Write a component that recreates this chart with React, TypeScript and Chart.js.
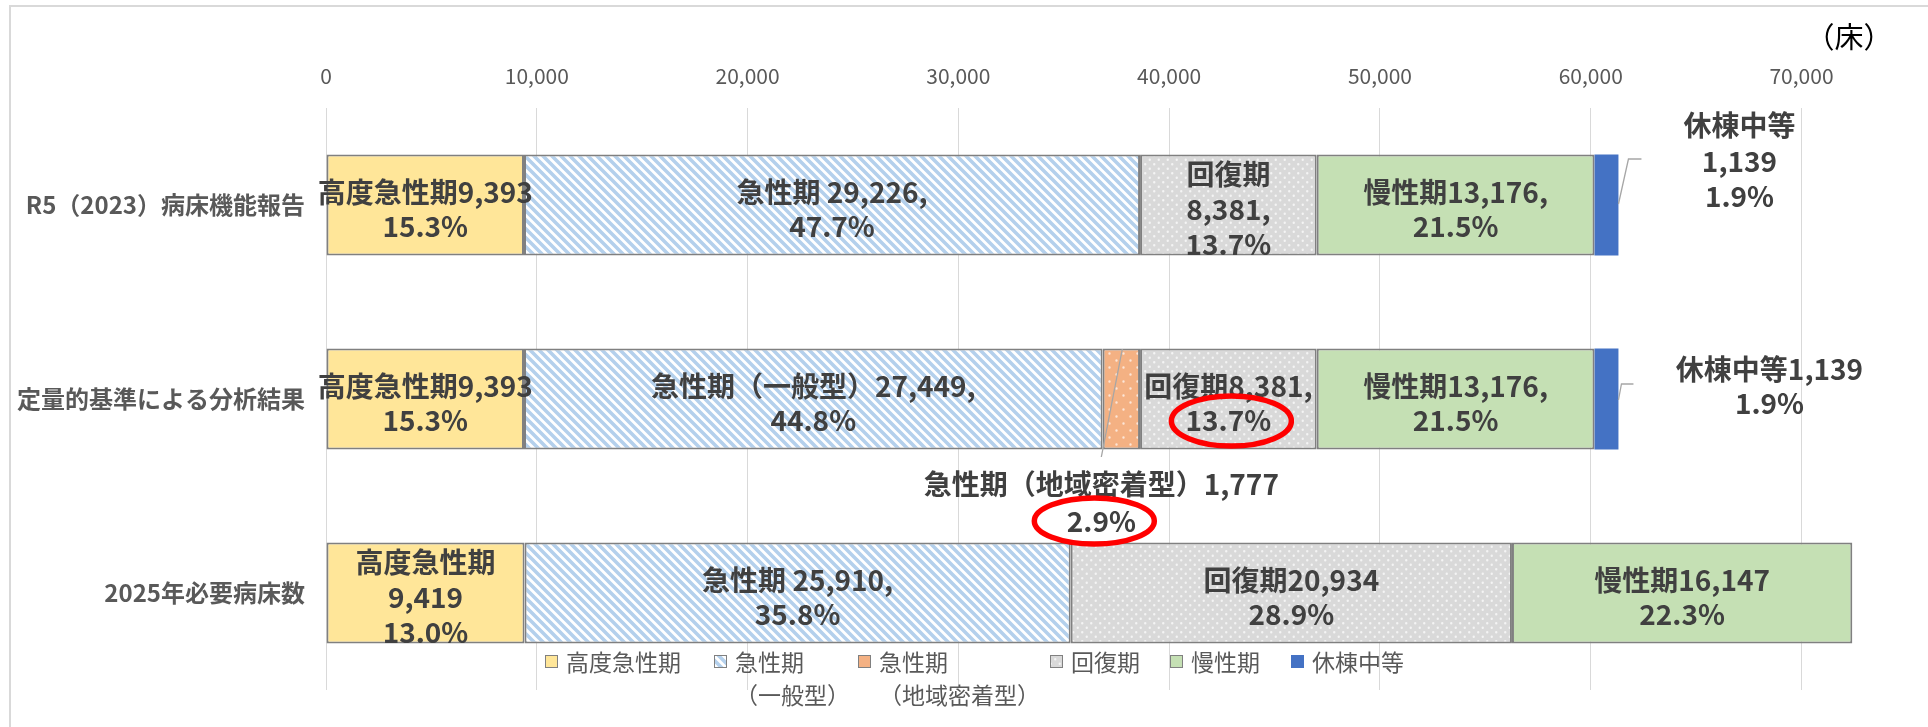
import React, { useEffect, useRef } from "react";
import { Chart, registerables } from "chart.js";

Chart.register(...registerables);

// ---------------- data ----------------
const categories = ["R5（2023）病床機能報告", "定量的基準による分析結果", "2025年必要病床数"];
const seriesNames = ["高度急性期", "急性期（一般型）", "急性期（地域密着型）", "回復期", "慢性期", "休棟中等"];
const legendLines = [["高度急性期"], ["急性期", "（一般型）"], ["急性期", "（地域密着型）"], ["回復期"], ["慢性期"], ["休棟中等"]];
const highAcute = [9393, 9393, 9419];
const acuteGeneral = [29226, 27449, 25910];
const acuteCommunity = [0, 1777, 0];
const recovery = [8381, 8381, 20934];
const chronic = [13176, 13176, 16147];
const inactive = [1139, 1139, 0];
const xTickValues = [0, 10000, 20000, 30000, 40000, 50000, 60000, 70000];
const unitLabel = "（床）";

// label text templates per series / per category ({v}=value, {p}=percent)
const labelTemplates: (string[] | null)[][] = [
  [["高度急性期{v}", "{p}"], ["高度急性期{v}", "{p}"], ["高度急性期", "{v}", "{p}"]],
  [["急性期 {v},", "{p}"], ["急性期（一般型）{v},", "{p}"], ["急性期 {v},", "{p}"]],
  [null, ["急性期（地域密着型）{v}", "{p}"], null],
  [["回復期", "{v},", "{p}"], ["回復期{v},", "{p}"], ["回復期{v}", "{p}"]],
  [["慢性期{v},", "{p}"], ["慢性期{v},", "{p}"], ["慢性期{v}", "{p}"]],
  [["休棟中等", "{v}", "{p}"], ["休棟中等{v}", "{p}"], null],
];

// ---------------- layout / style ----------------
const FONT = "'Noto Sans CJK JP', 'Noto Sans', sans-serif";
const W = 1928;
const H = 727;
const AXIS_MAX = 76000;
const PLOT_LEFT = 326;
const PLOT_TOP = 108;
const PLOT_BOTTOM = 690;

const outsideLabels: Record<string, any> = {
  "5-0": { anchor: "end", dx: 121, dy: -44, gap: 35.5, leader: [[0, -1], [10, -46], [23, -46]] },
  "5-1": { anchor: "end", dx: 151, dy: -13, gap: 34, leader: [[0, 1], [3, -15], [15, -15]] },
  "2-1": { anchor: "center", dx: -20, dy: 103.5, gap: 37, leader: [[1, -50], [-20, 58]] },
};
const highlights = [
  { key: "3-1", line: 1, dx: 3, dy: 1, rx: 60, ry: 25 },
  { key: "2-1", line: 1, dx: -7, dy: 0, rx: 60, ry: 23 },
];
const legendX = [545, 714, 858, 1050, 1170, 1291];
const legendY = [662, 695];

function stripePattern(ctx: CanvasRenderingContext2D) {
  const s = 9;
  const c = document.createElement("canvas");
  c.width = s;
  c.height = s;
  const g = c.getContext("2d")!;
  g.fillStyle = "#ffffff";
  g.fillRect(0, 0, s, s);
  g.strokeStyle = "#B4D0EC";
  g.lineWidth = 3.6;
  g.beginPath();
  g.moveTo(-2, -2);
  g.lineTo(s + 2, s + 2);
  g.moveTo(-3, s - 3);
  g.lineTo(3, s + 3);
  g.moveTo(s - 3, -3);
  g.lineTo(s + 3, 3);
  g.stroke();
  return ctx.createPattern(c, "repeat")!;
}

function dotPattern(ctx: CanvasRenderingContext2D, bg: string, dot: string, s: number) {
  const c = document.createElement("canvas");
  c.width = s;
  c.height = s;
  const g = c.getContext("2d")!;
  g.fillStyle = bg;
  g.fillRect(0, 0, s, s);
  g.fillStyle = dot;
  g.beginPath();
  g.arc(s * 0.25, s * 0.25, 1.2, 0, Math.PI * 2);
  g.arc(s * 0.75, s * 0.75, 1.2, 0, Math.PI * 2);
  g.fill();
  return ctx.createPattern(c, "repeat")!;
}

function fmt(v: number) {
  return v.toLocaleString("en-US");
}

export default function App() {
  const ref = useRef<HTMLCanvasElement>(null);

  useEffect(() => {
    const canvas = ref.current!;
    const ctx0 = canvas.getContext("2d")!;
    const series = [highAcute, acuteGeneral, acuteCommunity, recovery, chronic, inactive];
    const fills: any[] = [
      "#FFE699",
      stripePattern(ctx0),
      dotPattern(ctx0, "#F4B183", "#FCE6D8", 14),
      dotPattern(ctx0, "#D9D9D9", "#F4F4F4", 9),
      "#C5E0B4",
      "#4472C4",
    ];
    const borders = ["#808080", "#808080", "#808080", "#808080", "#808080", "#4472C4"];
    const totals = categories.map((_, i) => series.reduce((s, arr) => s + arr[i], 0));

    const overlay = {
      id: "overlay",
      beforeDraw(chart: any) {
        const ctx = chart.ctx;
        ctx.save();
        ctx.fillStyle = "#ffffff";
        ctx.fillRect(0, 0, W, H);
        ctx.strokeStyle = "#D9D9D9";
        ctx.lineWidth = 2;
        ctx.strokeRect(10, 6, W + 20, H + 20);
        ctx.restore();
      },
      afterDraw(chart: any) {
        const ctx = chart.ctx as CanvasRenderingContext2D;
        ctx.save();
        // unit label
        ctx.font = `29px ${FONT}`;
        ctx.fillStyle = "#000000";
        ctx.textAlign = "center";
        ctx.textBaseline = "middle";
        ctx.fillText(unitLabel, 1849, 37);

        // data labels
        const textPos: Record<string, { x: number; y: number }[]> = {};
        series.forEach((arr, d) => {
          const meta = chart.getDatasetMeta(d);
          arr.forEach((v, r) => {
            const tpl = labelTemplates[d][r];
            if (!tpl || !v) return;
            const el = meta.data[r];
            const pct = ((v / totals[r]) * 100).toFixed(1) + "%";
            const lines = tpl.map((t) => t.replace("{v}", fmt(v)).replace("{p}", pct));
            const key = `${d}-${r}`;
            const out = outsideLabels[key];
            const left = Math.min(el.x, el.base);
            const right = Math.max(el.x, el.base);
            let cx: number, cy: number, gap: number;
            if (out) {
              const ax = out.anchor === "end" ? right : (left + right) / 2;
              const ay = el.y;
              ctx.strokeStyle = "#A6A6A6";
              ctx.lineWidth = 1.3;
              ctx.beginPath();
              out.leader.forEach((p: number[], i: number) => {
                if (i === 0) ctx.moveTo(ax + p[0], ay + p[1]);
                else ctx.lineTo(ax + p[0], ay + p[1]);
              });
              ctx.stroke();
              cx = ax + out.dx;
              cy = ay + out.dy;
              gap = out.gap;
            } else {
              cx = (left + right) / 2;
              cy = el.y + 4;
              gap = lines.length > 2 ? 35 : 34;
            }
            ctx.font = `bold 28px ${FONT}`;
            ctx.fillStyle = "#404040";
            ctx.textAlign = "center";
            ctx.textBaseline = "middle";
            const pos: { x: number; y: number }[] = [];
            lines.forEach((ln, i) => {
              const y = cy + (i - (lines.length - 1) / 2) * gap;
              ctx.fillText(ln, cx, y);
              pos.push({ x: cx, y });
            });
            textPos[key] = pos;
          });
        });

        // highlight ellipses
        highlights.forEach((h) => {
          const p = textPos[h.key] && textPos[h.key][h.line];
          if (!p) return;
          ctx.strokeStyle = "#FF0000";
          ctx.lineWidth = 5.5;
          ctx.beginPath();
          ctx.ellipse(p.x + h.dx, p.y + h.dy, h.rx, h.ry, 0, 0, Math.PI * 2);
          ctx.stroke();
        });

        // legend
        ctx.font = `23px ${FONT}`;
        ctx.textAlign = "left";
        ctx.textBaseline = "middle";
        legendLines.forEach((lines, i) => {
          const x = legendX[i];
          ctx.fillStyle = fills[i];
          ctx.fillRect(x, legendY[0] - 7, 13, 13);
          if (i !== 5) {
            ctx.strokeStyle = "#808080";
            ctx.lineWidth = 1;
            ctx.strokeRect(x + 0.5, legendY[0] - 6.5, 12, 12);
          }
          ctx.fillStyle = "#595959";
          lines.forEach((ln, j) => ctx.fillText(ln, x + 21, legendY[j]));
        });
        ctx.restore();
      },
    };

    const chart = new Chart(canvas, {
      type: "bar",
      data: {
        labels: categories,
        datasets: series.map((arr, i) => ({
          label: seriesNames[i],
          data: arr,
          backgroundColor: fills[i],
          borderColor: borders[i],
          borderWidth: (c: any) => (c.raw > 0 && i !== 5 ? 2 : 0),
          borderSkipped: false,
          barPercentage: 0.52,
          categoryPercentage: 1,
        })),
      },
      options: {
        indexAxis: "y",
        responsive: false,
        animation: false,
        devicePixelRatio: 1,
        layout: { padding: { left: 0, right: 0, top: 0, bottom: H - PLOT_BOTTOM } },
        plugins: { legend: { display: false }, tooltip: { enabled: false } },
        scales: {
          x: {
            type: "linear",
            position: "top",
            stacked: true,
            min: 0,
            max: AXIS_MAX,
            afterBuildTicks: (axis: any) => {
              axis.ticks = xTickValues.map((v) => ({ value: v }));
            },
            afterFit: (axis: any) => {
              axis.height = PLOT_TOP;
            },
            grid: { color: "#D9D9D9", lineWidth: 1, drawTicks: false },
            border: { display: false },
            ticks: {
              padding: 19,
              color: "#595959",
              font: { family: FONT, size: 21 },
              callback: (v: any) => fmt(Number(v)),
            },
          },
          y: {
            type: "category",
            stacked: true,
            afterFit: (axis: any) => {
              axis.width = PLOT_LEFT;
            },
            grid: { display: false, drawTicks: false },
            border: { display: false },
            ticks: {
              padding: 21,
              color: "#595959",
              font: { family: FONT, size: 24, weight: "bold" },
            },
          },
        },
      },
      plugins: [overlay],
    } as any);
    return () => chart.destroy();
  }, []);

  return (
    <div style={{ position: "absolute", left: 0, top: 0, width: W, height: H, background: "#fff" }}>
      <canvas ref={ref} width={W} height={H} style={{ display: "block" }} />
    </div>
  );
}
